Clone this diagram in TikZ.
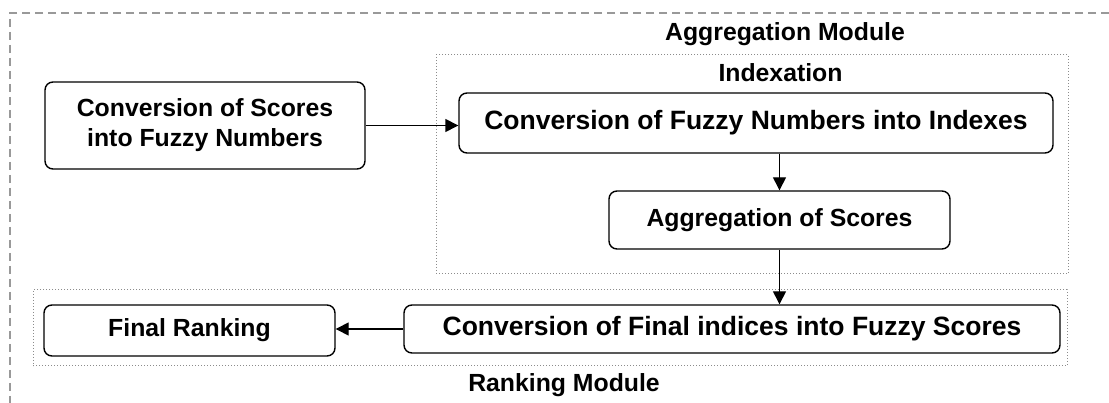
\documentclass[tikz,border=0pt]{standalone}
\usepackage{fontspec}
\setmainfont{Liberation Sans}
\usepackage{xcolor}
\usetikzlibrary{arrows.meta,shapes,backgrounds,fit}

\begin{document}
\begin{tikzpicture}[x=1pt,y=-1pt]
		\tikzstyle{step_box}=[draw=black, line width=1.4pt, rounded corners=8pt, align=center, inner sep=0pt, font=\fontsize{24.8}{30}\selectfont\bfseries]
		\tikzstyle{wide_box}=[step_box, font=\fontsize{26.5}{30}\selectfont\bfseries]
		\tikzstyle{module}=[draw=black!45, line width=1pt, dash pattern=on 1pt off 2pt, inner sep=0pt]
		\tikzstyle{module_text}=[font=\fontsize{24.8}{30}\selectfont\bfseries, inner sep=0pt]
		\tikzstyle{flow}=[line width=1.4pt, -{Triangle[length=13pt,width=13pt]}]

		\useasboundingbox (0,0) rectangle (1109,403);
		\draw [draw=black!40, line width=1.5pt, dash pattern=on 8pt off 5pt] (1109,13) -- (10,13) -- (10,403);

		% aggregation part
		\begin{scope}
			\node (agg_module) [module, minimum width=632pt, minimum height=219pt] at (752,164.5) {};
			\node [module_text] at (785,34) {Aggregation Module};
			\node [module_text] at (780.5,73) {Indexation};
			\node [wide_box, minimum width=594pt, minimum height=60pt] (conv_fuzzy) at (756,123) {Conversion of Fuzzy Numbers into Indexes};
			\node [step_box, minimum width=341pt, minimum height=58pt] (agg_scores) at (779.5,220) {Aggregation of Scores};
		\end{scope}

		\node [step_box, minimum width=320pt, minimum height=87pt] (conv_scores) at (205,125.5) {Conversion of Scores\\into Fuzzy Numbers};

		% ranking part
		\begin{scope}
			\node (rank_module) [module, minimum width=1034pt, minimum height=76pt] at (550,328) {};
			\node [module_text] at (564,385) {Ranking Module};
			\node [wide_box, minimum width=656pt, minimum height=48pt] (conv_final) at (732,329) {Conversion of Final indices into Fuzzy Scores};
			\node [step_box, minimum width=291pt, minimum height=51pt] (final_rank) at (189.5,330.5) {Final Ranking};
		\end{scope}

		\draw [flow] (conv_scores.east) -- (conv_fuzzy.west |- conv_scores.east);
		\draw [flow] (conv_fuzzy.south -| agg_scores.north) -- (agg_scores.north);
		\draw [flow] (agg_scores.south) -- (conv_final.north -| agg_scores.south);
		\draw [flow] (conv_final.west) -- (final_rank.east |- conv_final.west);
\end{tikzpicture}
\end{document}
